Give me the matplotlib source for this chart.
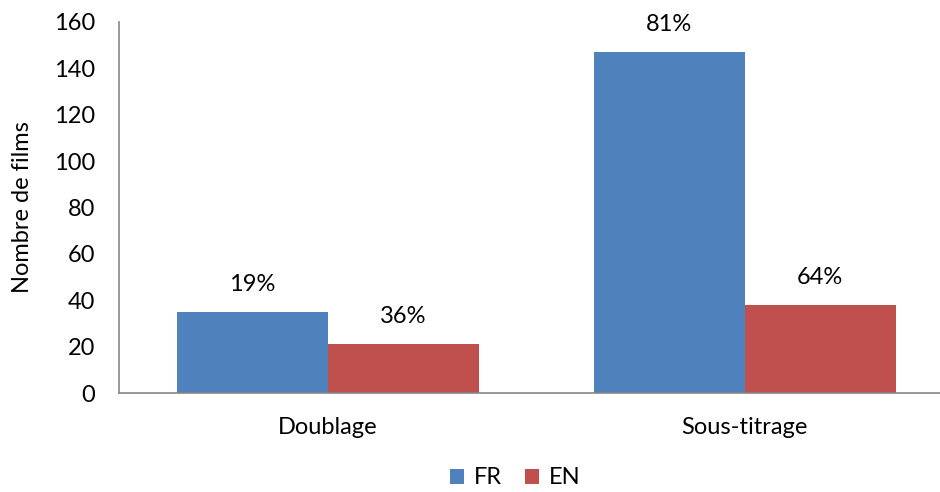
import matplotlib
matplotlib.use("Agg")
import matplotlib.pyplot as plt
import numpy as np

categories = ["Doublage", "Sous-titrage"]
fr_values = [35, 147]
en_values = [21, 38]
fr_pct = ["19%", "81%"]
en_pct = ["36%", "64%"]

BLUE, RED, AXIS = "#4F81BD", "#C0504D", "#868686"
FS = 17

plt.rcParams["font.family"] = ["Lato", "DejaVu Sans"]

fig = plt.figure(figsize=(9.4, 4.92), dpi=100)
ax = fig.add_axes([119 / 940, 99 / 492, 821 / 940, 371 / 492])

x = np.arange(len(categories))
w = 0.362
b1 = ax.bar(x - w / 2, fr_values, w, color=BLUE, label="FR")
b2 = ax.bar(x + w / 2, en_values, w, color=RED, label="EN")

for bars, labels in ((b1, fr_pct), (b2, en_pct)):
    for b, t in zip(bars, labels):
        ax.annotate(t, (b.get_x() + b.get_width() / 2, b.get_height()),
                    xytext=(0, 20), textcoords="offset points",
                    ha="center", va="center", fontsize=FS)

ax.set_xlim(-0.5, 1.468)
ax.set_ylim(0, 160)
ax.set_yticks(range(0, 161, 20))
ax.set_xticks(x)
ax.set_xticklabels(categories)
ax.tick_params(axis="y", length=0, labelsize=FS, pad=17)
ax.tick_params(axis="x", length=0, labelsize=FS, pad=17)
for s in ("top", "right"):
    ax.spines[s].set_visible(False)
for s in ("left", "bottom"):
    ax.spines[s].set_color(AXIS)
    ax.spines[s].set_linewidth(1.2)

ax.set_ylabel("Nombre de films", fontsize=FS)
ax.yaxis.set_label_coords(-86 / 821, 0.5)

fig.legend(loc="lower center", bbox_to_anchor=(0.548, -0.036), ncol=2, frameon=False,
           fontsize=FS, handlelength=0.6, handleheight=0.6, handletextpad=0.4,
           columnspacing=1.0)

fig.savefig("out.png", dpi=100)
